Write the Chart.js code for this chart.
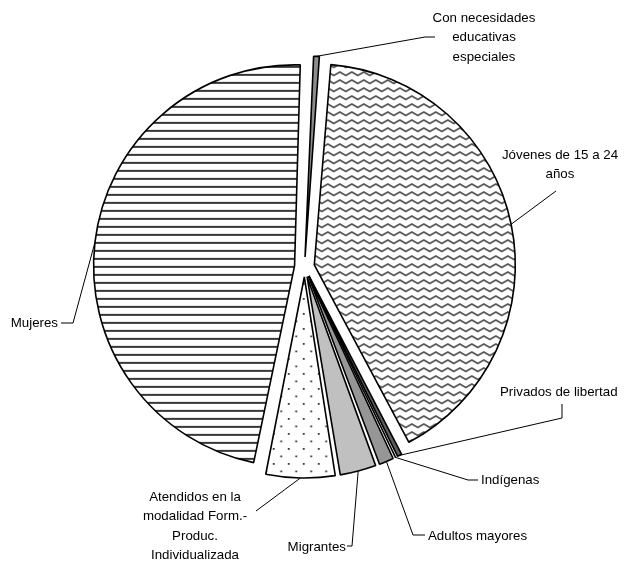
<!DOCTYPE html>
<html>
<head>
<meta charset="utf-8">
<script src="https://cdn.jsdelivr.net/npm/chart.js@4/dist/chart.umd.min.js"></script>
<style>
  html, body { margin: 0; padding: 0; background: #fff; }
  #wrap { width: 625px; height: 562px; }
</style>
</head>
<body>
<div id="wrap"><canvas id="pie-chart"></canvas></div>
<script>
// data, clockwise from 12 o'clock (percent of total)
var categories = [
    'Con necesidades educativas especiales',
    'Jóvenes de 15 a 24 años',
    'Privados de libertad',
    'Indígenas',
    'Adultos mayores',
    'Migrantes',
    'Atendidos en la modalidad Form.-Produc. Individualizada',
    'Mujeres'
];
var values = [0.7, 41.0, 0.6, 0.1, 1.4, 3.1, 5.7, 47.4];

// label text as it is broken in the picture
var labelLines = [
    ['Con necesidades', 'educativas', 'especiales'],
    ['Jóvenes de 15 a 24', 'años'],
    ['Privados de libertad'],
    ['Indígenas'],
    ['Adultos mayores'],
    ['Migrantes'],
    ['Atendidos en la', 'modalidad Form.-', 'Produc.', 'Individualizada'],
    ['Mujeres']
];

// where each label sits and how its leader line bends
var labelLayout = [
    { x: 484, y: 18, align: 'center', bends: [[425, 37], [435, 37]] },
    { x: 560, y: 155, align: 'center', bends: [[556, 191]] },
    { x: 500, y: 392, align: 'left', bends: [[562, 418], [562, 404]] },
    { x: 481, y: 480, align: 'left', bends: [[468, 480], [478, 480]] },
    { x: 428, y: 536, align: 'left', bends: [[413, 535], [425, 535]] },
    { x: 346, y: 547, align: 'right', bends: [[352, 546], [347, 546]] },
    { x: 195, y: 497, align: 'center', bends: [[256, 511]] },
    { x: 58, y: 323, align: 'right', bends: [[73, 323], [61, 323]] }
];

var PIE_RADIUS = 201;
var EXPLODE = 10;

function makePattern(w, h, draw) {
    var c = document.createElement('canvas');
    c.width = w; c.height = h;
    var g = c.getContext('2d');
    g.fillStyle = '#ffffff';
    g.fillRect(0, 0, w, h);
    draw(g);
    return g.createPattern(c, 'repeat');
}

var hStripes = makePattern(8, 8, function (g) {
    g.strokeStyle = '#222222';
    g.lineWidth = 1.8;
    g.beginPath(); g.moveTo(0, 4); g.lineTo(8, 4); g.stroke();
});

var waves = makePattern(12, 8, function (g) {
    g.strokeStyle = '#555555';
    g.lineWidth = 1.6;
    g.beginPath();
    g.moveTo(-3, 3.5); g.lineTo(0, 5.5); g.lineTo(6, 2); g.lineTo(12, 5.5); g.lineTo(15, 3.5);
    g.stroke();
});

var dots = makePattern(15, 15, function (g) {
    g.fillStyle = '#333333';
    g.fillRect(3, 3, 1.8, 1.8);
    g.fillRect(10.5, 10.5, 1.8, 1.8);
});

var fills = ['#8c8c8c', waves, '#5f5f5f', '#800080', '#969696', '#c0c0c0', dots, hStripes];

// Chart.js grows an exploded slice's radius; pull it back so all slices match
var radiusFix = {
    id: 'radiusFix',
    beforeDatasetsDraw: function (chart) {
        var meta = chart.getDatasetMeta(0);
        meta.data.forEach(function (arc) {
            var circ = arc.endAngle - arc.startAngle;
            var fix = 1 - Math.sin(Math.min(Math.PI, circ));
            arc.outerRadius = PIE_RADIUS - EXPLODE * fix;
        });
    }
};

var leaderLabels = {
    id: 'leaderLabels',
    afterDatasetsDraw: function (chart) {
        var c = chart.ctx;
        var meta = chart.getDatasetMeta(0);
        c.save();
        c.strokeStyle = '#000';
        c.lineWidth = 1;
        c.fillStyle = '#000';
        c.font = '13.3px "Liberation Sans", Arial, sans-serif';
        c.textBaseline = 'middle';
        meta.data.forEach(function (arc, i) {
            var mid = (arc.startAngle + arc.endAngle) / 2;
            var r = PIE_RADIUS + EXPLODE;
            var sx = arc.x + Math.cos(mid) * r;
            var sy = arc.y + Math.sin(mid) * r;
            var lay = labelLayout[i];
            c.beginPath();
            c.moveTo(sx, sy);
            lay.bends.forEach(function (p) { c.lineTo(p[0], p[1]); });
            c.stroke();
            c.textAlign = lay.align;
            labelLines[i].forEach(function (t, k) {
                c.fillText(t, lay.x, lay.y + k * 19.5);
            });
        });
        c.restore();
    }
};

var PieChart = new Chart(document.getElementById('pie-chart'), {
    type: 'pie',
    data: {
        labels: categories,
        datasets: [{
            data: values,
            backgroundColor: fills,
            borderColor: '#000000',
            borderWidth: 1.6,
            offset: EXPLODE * 4,
            hoverOffset: 0
        }]
    },
    options: {
        responsive: true,
        maintainAspectRatio: false,
        animation: false,
        rotation: 2.0,
        radius: PIE_RADIUS,
        layout: { padding: { left: 0, right: 16, top: 0, bottom: 28 } },
        plugins: {
            legend: { display: false },
            tooltip: { enabled: false }
        }
    },
    plugins: [radiusFix, leaderLabels]
});
</script>
</body>
</html>
